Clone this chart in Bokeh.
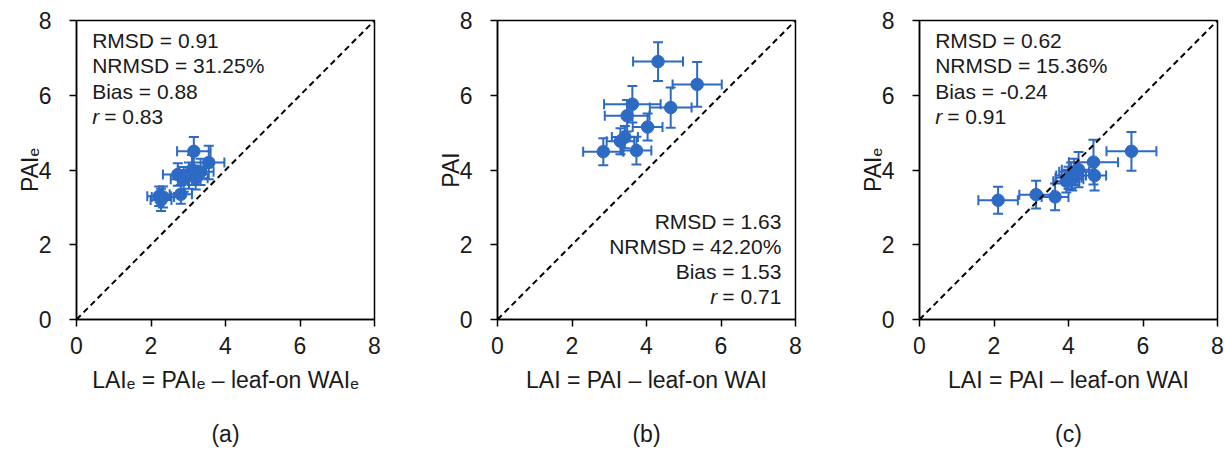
from bokeh.plotting import figure
from bokeh.models import ColumnDataSource, Whisker, TeeHead, Slope, Title, Label, FixedTicker, Range1d
from bokeh.layouts import row
from bokeh.embed import file_html
from bokeh.resources import INLINE

# ---------------- data ----------------
x_a = [3.15, 3.55, 3.10, 3.33, 2.72, 2.88, 3.02, 3.20, 2.80, 2.22, 2.32, 2.27]
y_a = [4.50, 4.20, 4.00, 3.95, 3.88, 3.75, 3.85, 3.78, 3.35, 3.30, 3.28, 3.20]
xerr_a = [0.45, 0.42, 0.38, 0.35, 0.40, 0.35, 0.36, 0.32, 0.30, 0.32, 0.30, 0.28]
yerr_a = [0.38, 0.45, 0.40, 0.35, 0.30, 0.33, 0.35, 0.30, 0.25, 0.26, 0.28, 0.30]

x_b = [4.31, 5.36, 3.62, 4.65, 3.48, 4.03, 3.30, 3.42, 2.84, 3.73]
y_b = [6.90, 6.29, 5.76, 5.67, 5.45, 5.15, 4.77, 4.88, 4.49, 4.52]
xerr_b = [0.67, 0.66, 0.76, 0.56, 0.60, 0.40, 0.37, 0.35, 0.54, 0.40]
yerr_b = [0.52, 0.60, 0.49, 0.54, 0.42, 0.36, 0.35, 0.30, 0.36, 0.37]

x_c = [5.69, 4.67, 4.70, 4.27, 4.15, 4.07, 4.00, 3.94, 4.10, 3.64, 3.13, 2.11]
y_c = [4.50, 4.21, 3.85, 4.01, 3.95, 3.85, 3.79, 3.70, 3.75, 3.28, 3.34, 3.19]
xerr_c = [0.67, 0.66, 0.31, 0.45, 0.40, 0.40, 0.35, 0.35, 0.30, 0.36, 0.45, 0.53]
yerr_c = [0.52, 0.60, 0.40, 0.47, 0.35, 0.35, 0.30, 0.30, 0.30, 0.36, 0.37, 0.36]

ticks = [0, 2, 4, 6, 8]

stats_a = ["RMSD = 0.91", "NRMSD = 31.25%", "Bias = 0.88", "= 0.83"]
stats_b = ["RMSD = 1.63", "NRMSD = 42.20%", "Bias = 1.53", "= 0.71"]
stats_c = ["RMSD = 0.62", "NRMSD = 15.36%", "Bias = -0.24", "= 0.91"]

xlab_a = "LAIₑ = PAIₑ – leaf-on WAIₑ"
xlab_b = "LAI = PAI – leaf-on WAI"
xlab_c = "LAI = PAI – leaf-on WAI"
ylab_a = "PAIₑ"
ylab_b = "PAI"
ylab_c = "PAIₑ"

BLUE = "#2D6AC4"
FONT = "Liberation Sans"
TXT = "#1a1a1a"
FS = "23px"
SFS = "21px"


def panel(xs, ys, xe, ye, xlab, ylab, tag, stats, right_side, border_right):
    p = figure(frame_width=298, frame_height=299, x_range=Range1d(0, 8), y_range=Range1d(0, 8),
               output_backend="svg", toolbar_location=None,
               min_border_left=76, min_border_right=border_right,
               min_border_top=20, min_border_bottom=130,
               background_fill_color="white", border_fill_color="white")
    p.grid.visible = False
    p.outline_line_color = "black"
    p.outline_line_width = 1.5
    p.outline_line_alpha = 1.0

    for ax in (p.xaxis[0], p.yaxis[0]):
        ax.ticker = FixedTicker(ticks=ticks)
        ax.axis_line_color = "black"
        ax.axis_line_width = 1.5
        ax.major_tick_line_color = "black"
        ax.major_tick_line_width = 1.5
        ax.major_tick_out = 7
        ax.major_tick_in = 0
        ax.minor_tick_line_color = None
        ax.major_label_text_font = FONT
        ax.major_label_text_font_size = FS
        ax.major_label_text_color = TXT
        ax.axis_label_text_font = FONT
        ax.axis_label_text_font_size = FS
        ax.axis_label_text_font_style = "normal"
        ax.axis_label_text_color = TXT
    p.xaxis.major_label_standoff = 10
    p.yaxis.major_label_standoff = 18
    p.xaxis.axis_label_standoff = 10
    p.yaxis.axis_label_standoff = -7
    p.xaxis.axis_label = xlab
    p.yaxis.axis_label = ylab

    # 1:1 line
    p.add_layout(Slope(gradient=1, y_intercept=0, line_color="black", line_width=2, line_dash="6 4"))

    lx = [a - b for a, b in zip(xs, xe)]
    ux = [a + b for a, b in zip(xs, xe)]
    ly = [a - b for a, b in zip(ys, ye)]
    uy = [a + b for a, b in zip(ys, ye)]
    src = ColumnDataSource(dict(x=xs, y=ys, lx=lx, ux=ux, ly=ly, uy=uy))

    def head():
        return TeeHead(size=10, line_color=BLUE, line_width=2)

    p.add_layout(Whisker(source=src, base="y", lower="lx", upper="ux", dimension="width",
                         line_color=BLUE, line_width=2, lower_head=head(), upper_head=head()))
    p.add_layout(Whisker(source=src, base="x", lower="ly", upper="uy", dimension="height",
                         line_color=BLUE, line_width=2, lower_head=head(), upper_head=head()))
    p.scatter("x", "y", source=src, size=12.5, fill_color=BLUE, line_color=BLUE)

    common = dict(text_font=FONT, text_font_size=SFS, text_color=TXT)
    if not right_side:
        ys_t = [7.47, 6.79, 6.11, 5.43]
        for t, yy in zip(stats[:3], ys_t[:3]):
            p.add_layout(Label(x=0.42, y=yy, text=t, text_align="left", text_baseline="alphabetic", **common))
        p.add_layout(Label(x=0.42, y=ys_t[3], text="r", text_font_style="italic",
                           text_align="left", text_baseline="alphabetic", **common))
        p.add_layout(Label(x=0.42, y=ys_t[3], x_offset=12, text=stats[3],
                           text_align="left", text_baseline="alphabetic", **common))
    else:
        ys_t = [2.62, 1.95, 1.28, 0.61]
        for t, yy in zip(stats[:3], ys_t[:3]):
            p.add_layout(Label(x=7.62, y=yy, text=t, text_align="right", text_baseline="alphabetic", **common))
        p.add_layout(Label(x=7.62, y=ys_t[3], text=stats[3],
                           text_align="right", text_baseline="alphabetic", **common))
        p.add_layout(Label(x=7.62, y=ys_t[3], x_offset=-64, text="r", text_font_style="italic",
                           text_align="right", text_baseline="alphabetic", **common))

    p.add_layout(Title(text=tag, align="center", text_font=FONT, text_font_size=FS,
                       text_font_style="normal", text_color=TXT, standoff=46), "below")
    return p


pa = panel(x_a, y_a, xerr_a, yerr_a, xlab_a, ylab_a, "(a)", stats_a, False, 47)
pb = panel(x_b, y_b, xerr_b, yerr_b, xlab_b, ylab_b, "(b)", stats_b, True, 48)
pc = panel(x_c, y_c, xerr_c, yerr_c, xlab_c, ylab_c, "(c)", stats_c, False, 7)

layout = row(pa, pb, pc)
open("out.html", "w").write(file_html(layout, INLINE))
